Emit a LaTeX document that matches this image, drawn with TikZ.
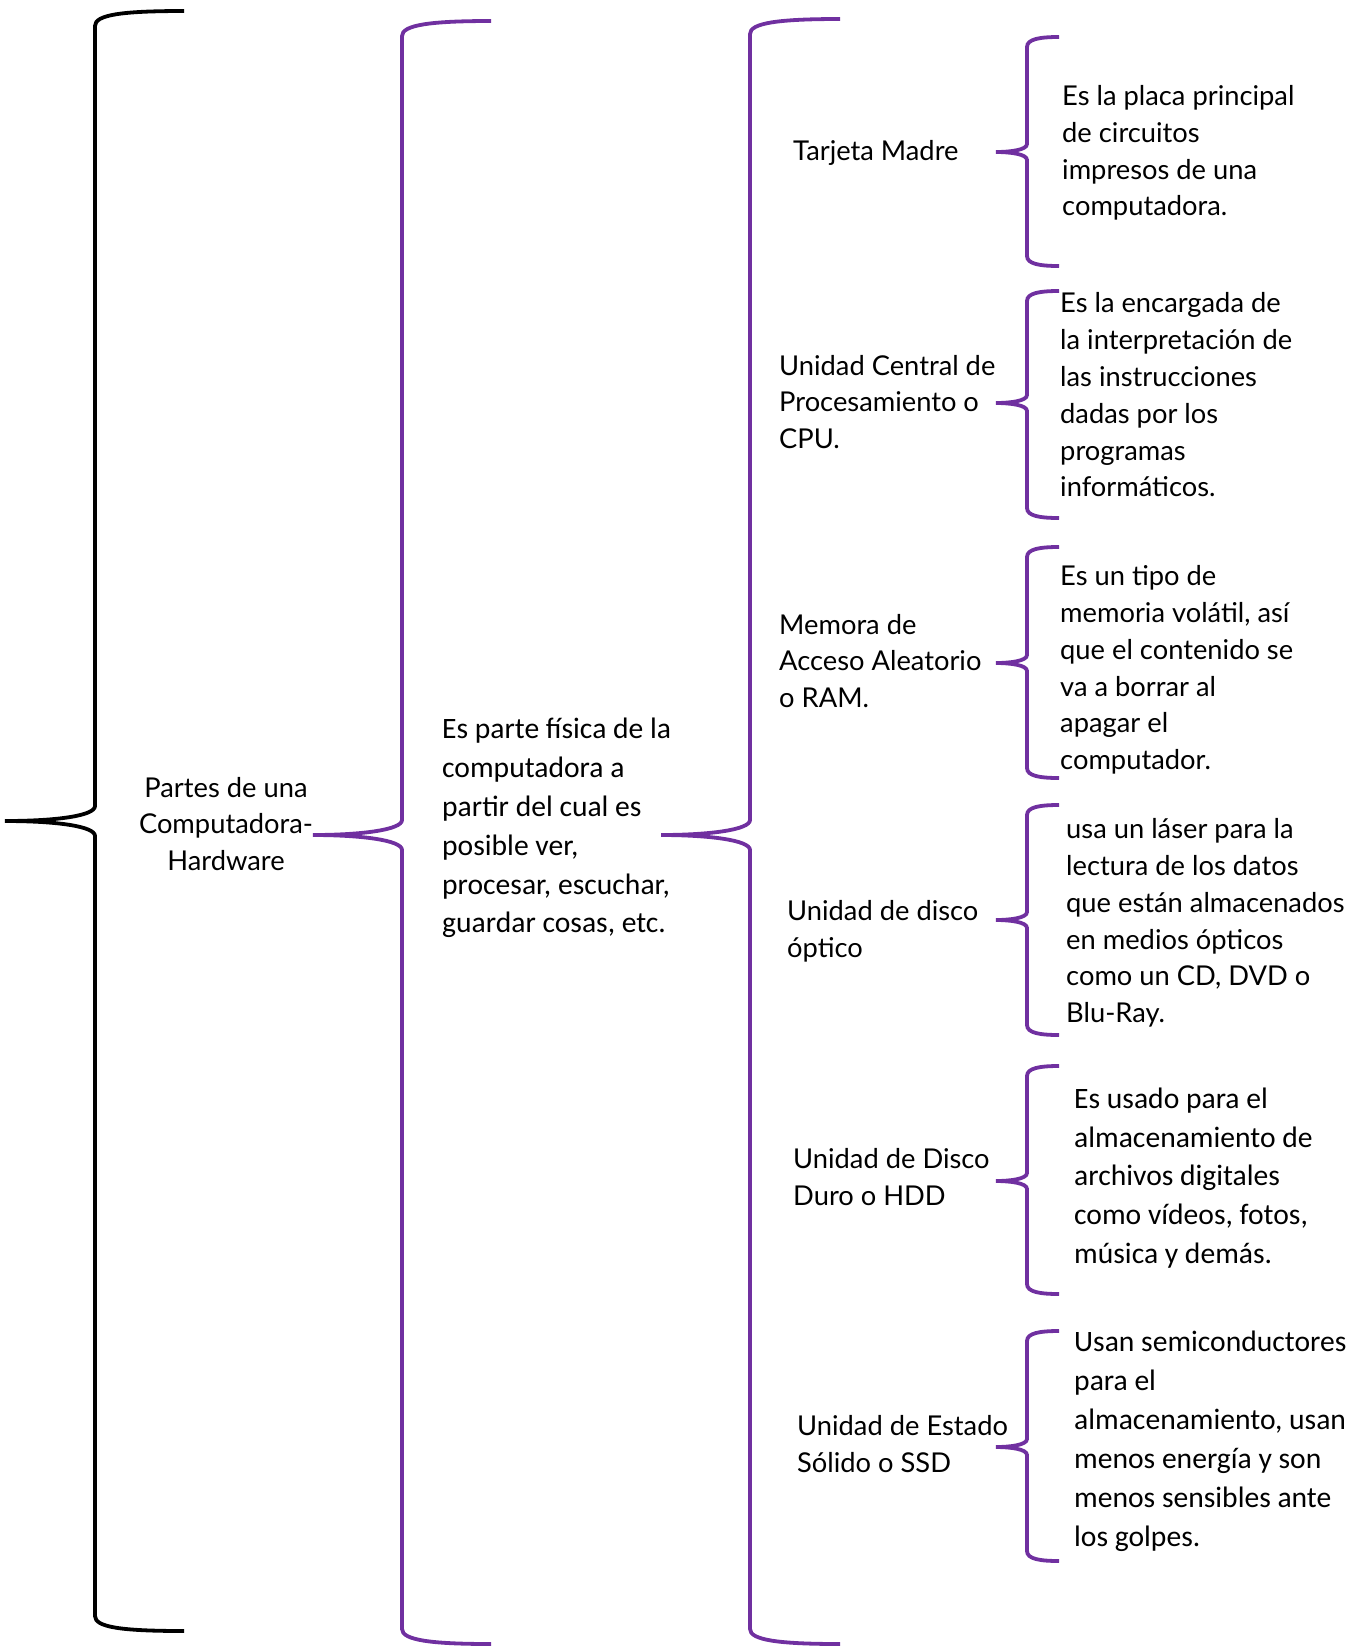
\documentclass[tikz,border=0pt]{standalone}
\usepackage{fontspec}
\setmainfont{Lato}
\newfontfamily\calibri{Carlito}
\definecolor{morado}{HTML}{7030A0}
\begin{document}
\begin{tikzpicture}[x=1pt,y=-1pt]
\tikzstyle{every node}+=[inner sep=0pt]
\tikzstyle{llave}=[morado,line width=3.8pt]
\tikzstyle{texto}=[align=left,anchor=west,font=\fontsize{27.3}{36.8}\selectfont]
\tikzstyle{textoc}=[align=left,anchor=west,font=\calibri\fontsize{29.6}{38.9}\selectfont]
\useasboundingbox (0,0) rectangle (1354,1647);
% llave principal
\draw [black,line width=3.8pt] (184,11) .. controls (120,11) and (95,15) .. (95,26) -- (95,806) .. controls (95,816) and (55,821) .. (5,821) .. controls (55,821) and (95,826) .. (95,836) -- (95,1616) .. controls (95,1627) and (120,1631) .. (184,1631);
\node [texto,anchor=center,align=center] (titulo) at (226,824) {Partes de una\\Computadora-\\Hardware};
% llaves moradas grandes
\draw [llave] (491,21) .. controls (430,21) and (402,25) .. (402,36) -- (402,820) .. controls (402,830) and (360,835) .. (313,835) .. controls (360,835) and (402,840) .. (402,850) -- (402,1629) .. controls (402,1640) and (430,1644) .. (491,1644);
\node [textoc] (definicion) at (442,828) {Es parte física de la\\computadora a\\partir del cual es\\posible ver,\\procesar, escuchar,\\guardar cosas, etc.};
\draw [llave] (840,19) .. controls (778,19) and (750,23) .. (750,34) -- (750,820) .. controls (750,830) and (708,835) .. (661,835) .. controls (708,835) and (750,840) .. (750,850) -- (750,1629) .. controls (750,1640) and (778,1644) .. (840,1644);
% componentes
\node [texto] (tarjeta) at (793,153) {Tarjeta Madre};
\node [texto] (cpu) at (779,402) {Unidad Central de\\Procesamiento o\\CPU.};
\node [texto] (ram) at (779,661) {Memora de\\Acceso Aleatorio\\o RAM.};
\node [texto] (optico) at (787,931) {Unidad de disco\\óptico};
\node [texto] (hdd) at (793,1177) {Unidad de Disco\\Duro o HDD};
\node [texto] (ssd) at (797,1444) {Unidad de Estado\\Sólido o SSD};
% llaves pequenas
\draw [llave] (1059,37) .. controls (1040,37) and (1027,39) .. (1027,47) -- (1027,144) .. controls (1027,150) and (1010,152) .. (996,152) .. controls (1010,152) and (1027,154) .. (1027,160) -- (1027,256) .. controls (1027,264) and (1040,266) .. (1059,266);
\draw [llave] (1059,291) .. controls (1040,291) and (1027,293) .. (1027,301) -- (1027,395) .. controls (1027,401) and (1010,403) .. (996,403) .. controls (1010,403) and (1027,405) .. (1027,411) -- (1027,508) .. controls (1027,516) and (1040,518) .. (1059,518);
\draw [llave] (1059,547) .. controls (1040,547) and (1027,549) .. (1027,557) -- (1027,655) .. controls (1027,661) and (1010,663) .. (996,663) .. controls (1010,663) and (1027,665) .. (1027,671) -- (1027,768) .. controls (1027,776) and (1040,778) .. (1059,778);
\draw [llave] (1059,805) .. controls (1040,805) and (1027,807) .. (1027,815) -- (1027,912) .. controls (1027,918) and (1010,920) .. (996,920) .. controls (1010,920) and (1027,922) .. (1027,928) -- (1027,1025) .. controls (1027,1033) and (1040,1035) .. (1059,1035);
\draw [llave] (1059,1066) .. controls (1040,1066) and (1027,1068) .. (1027,1076) -- (1027,1173) .. controls (1027,1179) and (1010,1181) .. (996,1181) .. controls (1010,1181) and (1027,1183) .. (1027,1189) -- (1027,1284) .. controls (1027,1292) and (1040,1294) .. (1059,1294);
\draw [llave] (1059,1331) .. controls (1040,1331) and (1027,1333) .. (1027,1341) -- (1027,1439) .. controls (1027,1445) and (1010,1447) .. (996,1447) .. controls (1010,1447) and (1027,1449) .. (1027,1455) -- (1027,1551) .. controls (1027,1559) and (1040,1561) .. (1059,1561);
% descripciones
\node [texto] (dtarjeta) at (1062,153) {Es la placa principal\\de circuitos\\impresos de una\\computadora.};
\node [texto] (dcpu) at (1060,395) {Es la encargada de\\la interpretación de\\las instrucciones\\dadas por los\\programas\\informáticos.};
\node [texto] (dram) at (1060,670) {Es un tipo de\\memoria volátil, así\\que el contenido se\\va a borrar al\\apagar el\\computador.};
\node [texto] (doptico) at (1066,923) {usa un láser para la\\lectura de los datos\\que están almacenados\\en medios ópticos\\como un CD, DVD o\\Blu-Ray.};
\node [textoc] (dhdd) at (1074,1178) {Es usado para el\\almacenamiento de\\archivos digitales\\como vídeos, fotos,\\música y demás.};
\node [textoc] (dssd) at (1074,1441) {Usan semiconductores\\para el\\almacenamiento, usan\\menos energía y son\\menos sensibles ante\\los golpes.};
\end{tikzpicture}
\end{document}
